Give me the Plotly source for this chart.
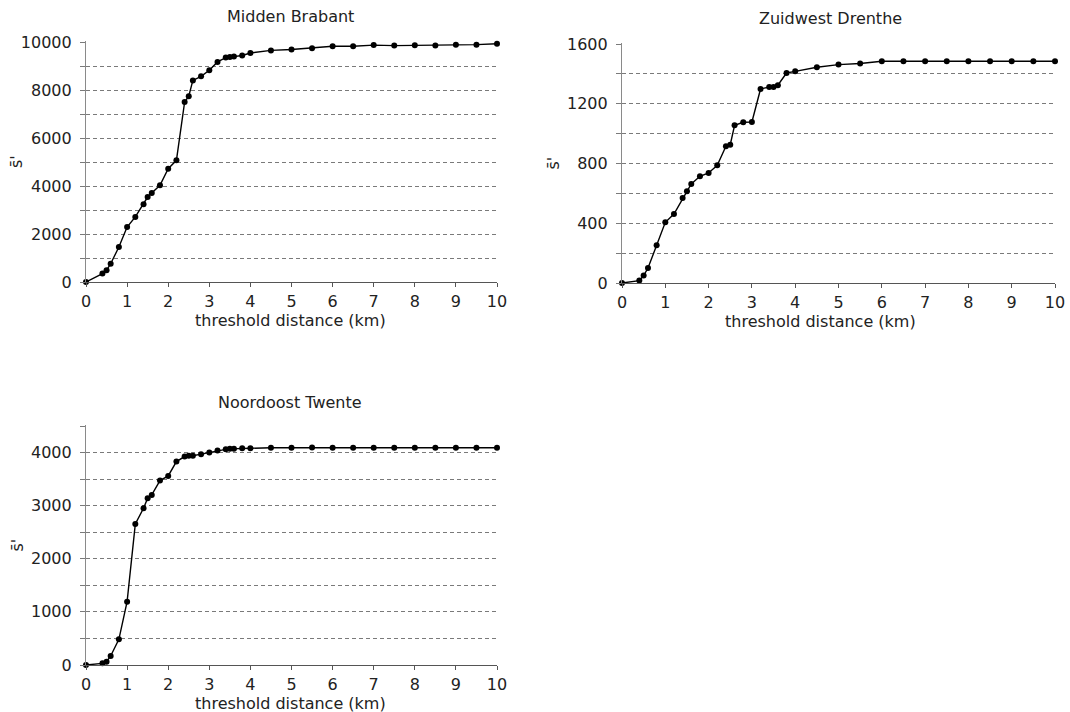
import plotly.graph_objects as go

# threshold distances (km), shared by all panels
distance = [0, 0.4, 0.5, 0.6, 0.8, 1.0, 1.2, 1.4, 1.5, 1.6, 1.8, 2.0, 2.2, 2.4, 2.5, 2.6,
            2.8, 3.0, 3.2, 3.4, 3.5, 3.6, 3.8, 4.0, 4.5, 5.0, 5.5, 6.0, 6.5, 7.0, 7.5,
            8.0, 8.5, 9.0, 9.5, 10.0]

midden_brabant = [0, 350, 490, 760, 1460, 2290, 2710, 3240, 3540, 3710, 4030, 4720, 5070,
                  7500, 7740, 8400, 8570, 8820, 9170, 9350, 9375, 9400, 9440, 9540, 9650,
                  9690, 9740, 9820, 9820, 9870, 9850, 9860, 9850, 9890, 9890, 9930]

zuidwest_drenthe = [0, 16, 50, 100, 252, 406, 462, 569, 614, 663, 714, 737, 788, 915, 926,
                    1056, 1076, 1078, 1299, 1312, 1312, 1324, 1406, 1417, 1444, 1462, 1469,
                    1484, 1484, 1484, 1484, 1484, 1484, 1484, 1484, 1484]

noordoost_twente = [0, 31, 63, 170, 484, 1193, 2657, 2951, 3140, 3203, 3473, 3560, 3830,
                    3925, 3940, 3940, 3970, 4000, 4040, 4060, 4070, 4070, 4080, 4080, 4090,
                    4090, 4095, 4090, 4090, 4090, 4090, 4090, 4090, 4090, 4090, 4090]

titles = ["Midden Brabant", "Zuidwest Drenthe", "Noordoost Twente"]
x_label = "threshold distance (km)"
y_label = "s\u0304'"

W, H = 1070, 712
FONT = "DejaVu Sans, Liberation Sans, Arial, sans-serif"
TXT = "#222222"
GRID = "#7a7a7a"
AXIS = "#555555"
DASH = "4px,3px"

# panel boxes in pixels: (left, right, top, bottom)
boxes = [(86, 497, 42, 282), (622, 1055, 44, 283), (86, 497, 426, 665)]
# (min, max, label step, grid step)
yranges = [(0, 10000, 2000, 1000), (0, 1600, 400, 200), (0, 4500, 1000, 500)]
series = [midden_brabant, zuidwest_drenthe, noordoost_twente]
title_x = [290, 830, 290]
xlabel_x = [290, 820, 290]
title_y = [17, 18, 402]

fig = go.Figure()
layout = dict(width=W, height=H, margin=dict(l=0, r=0, t=0, b=0),
              paper_bgcolor="white", plot_bgcolor="white", showlegend=False,
              font=dict(family=FONT, color=TXT, size=16))
annotations = []

for i, (box, yr, ys, title) in enumerate(zip(boxes, yranges, series, titles)):
    n = "" if i == 0 else str(i + 1)
    l, r, t, b = box
    # small headroom so the top gridline is drawn
    ymax = yr[1] * 1.004
    t_adj = b - (b - t) * 1.004
    xd = [l / W, r / W]
    yd = [1 - b / H, 1 - t_adj / H]
    fig.add_trace(go.Scatter(x=distance, y=ys, mode="lines+markers",
                             xaxis="x" + n, yaxis="y" + n, cliponaxis=False,
                             line=dict(color="black", width=1.4),
                             marker=dict(color="black", size=6)))
    layout["xaxis" + n] = dict(domain=xd, anchor="y" + n, range=[0, 10], dtick=1,
                               automargin=False,
                               showgrid=False, zeroline=False, showline=True,
                               linecolor=AXIS, linewidth=1.2, ticks="outside",
                               ticklen=4, tickcolor=AXIS, ticklabelstandoff=1,
                               tickfont=dict(size=16, color=TXT))
    layout["yaxis" + n] = dict(domain=yd, anchor="x" + n, range=[yr[0], ymax],
                               automargin=False, tickformat="d",
                               dtick=yr[2], tick0=0, showgrid=True, gridcolor=GRID,
                               griddash=DASH, gridwidth=1, zeroline=False,
                               showline=True, linecolor="#8a8a8a", linewidth=1.2,
                               ticks="outside", ticklen=5, tickcolor=GRID,
                               ticklabelstandoff=5,
                               tickfont=dict(size=16, color=TXT),
                               minor=dict(dtick=yr[3], tick0=0, showgrid=True,
                                          gridcolor=GRID, griddash=DASH,
                                          gridwidth=1, ticks="outside", ticklen=5,
                                          tickcolor=GRID))
    annotations.append(dict(text=title, x=title_x[i] / W,
                            y=1 - title_y[i] / H, xref="paper", yref="paper",
                            showarrow=False, font=dict(size=16, color=TXT),
                            xanchor="center", yanchor="middle"))
    annotations.append(dict(text=x_label, x=xlabel_x[i] / W,
                            y=1 - (b + 38) / H, xref="paper", yref="paper",
                            showarrow=False, font=dict(size=16, color=TXT),
                            xanchor="center", yanchor="middle"))
    annotations.append(dict(text=y_label, x=(l - 69) / W, y=1 - ((t + b) / 2) / H,
                            xref="paper", yref="paper", showarrow=False, textangle=-90,
                            font=dict(size=16, color=TXT),
                            xanchor="center", yanchor="middle"))

layout["annotations"] = annotations
fig.update_layout(**layout)
fig.write_html("out.html", config={"displayModeBar": False},
               post_script="document.body.style.margin='0px';"
                           "document.body.style.padding='0px';")
